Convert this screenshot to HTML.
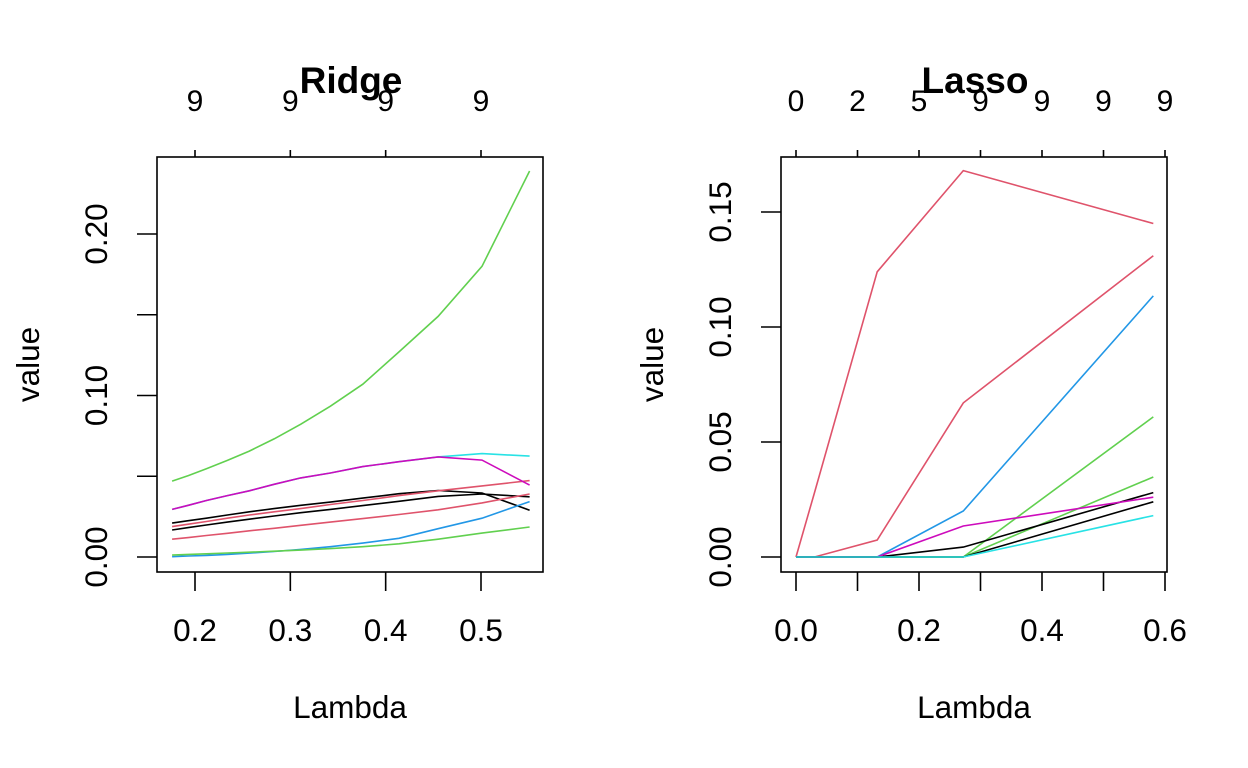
<!DOCTYPE html>
<html><head><meta charset="utf-8"><style>
html,body{margin:0;padding:0;background:#fff;}
svg{display:block;font-family:"Liberation Sans",Arial,sans-serif;}
</style></head><body>
<svg id="chart" width="1248" height="768" viewBox="0 0 1248 768" xmlns="http://www.w3.org/2000/svg"></svg>
<script>
// Ridge data
const ridgeLambda = [0.176,0.193,0.212,0.234,0.257,0.283,0.311,0.342,0.376,0.414,0.455,0.501,0.551];
const ridgeSeries = [
  [0.021,0.0225,0.024,0.026,0.028,0.030,0.032,0.034,0.0365,0.0392,0.0412,0.0396,0.029],
  [0.0188,0.0203,0.022,0.024,0.026,0.028,0.030,0.0325,0.035,0.038,0.041,0.044,0.0473],
  [0.047,0.0504,0.0546,0.0598,0.0656,0.0731,0.0822,0.0934,0.107,0.127,0.149,0.180,0.239],
  [0.0002,0.0006,0.001,0.0016,0.0024,0.0034,0.0047,0.0064,0.0086,0.0116,0.0175,0.024,0.0343],
  [0.0295,0.032,0.035,0.038,0.041,0.045,0.049,0.052,0.056,0.059,0.062,0.064,0.0625],
  [0.0295,0.032,0.035,0.038,0.041,0.045,0.049,0.052,0.056,0.059,0.062,0.060,0.0445],
  [0.0167,0.0182,0.0198,0.0216,0.0234,0.0254,0.0274,0.0295,0.0318,0.0345,0.0375,0.039,0.0373],
  [0.011,0.012,0.0133,0.0147,0.0162,0.0178,0.0196,0.0216,0.0238,0.0263,0.0292,0.0335,0.039],
  [0.0012,0.0016,0.002,0.0025,0.003,0.0036,0.0043,0.0052,0.0064,0.0082,0.011,0.0148,0.0186]
];
const ridgeXTicks = [0.2,0.3,0.4,0.5];
const ridgeYTicks = [0,0.05,0.10,0.15,0.20];
const ridgeYLabels = ["0.00","","0.10","","0.20"];
const ridgeTopLabels = ["9","9","9","9"];
// Lasso data
const lassoLambda = [0,0.03,0.132,0.272,0.581];
const lassoSeries = [
  [0,0.028,0.124,0.168,0.145],
  [0,0,0.0074,0.067,0.131],
  [0,0,0,0.020,0.1135],
  [0,0,0,0,0.0609],
  [0,0,0,0,0.0348],
  [0,0,0,0.0043,0.028],
  [0,0,0,0.0135,0.026],
  [0,0,0,0,0.024],
  [0,0,0,0,0.018]
];
const lassoColors = ["#DF536B","#DF536B","#2297E6","#61D04F","#61D04F","#000000","#CD0BBC","#000000","#28E2E5"];
const ridgeColors = ["#000000","#DF536B","#61D04F","#2297E6","#28E2E5","#CD0BBC","#000000","#DF536B","#61D04F"];
const lassoXTicks = [0,0.1,0.2,0.3,0.4,0.5,0.6];
const lassoXLabels = ["0.0","","0.2","","0.4","","0.6"];
const lassoYTicks = [0,0.05,0.10,0.15];
const lassoYLabels = ["0.00","0.05","0.10","0.15"];
const lassoTopLabels = ["0","2","5","9","9","9","9"];

const NS="http://www.w3.org/2000/svg";
const svg=document.getElementById('chart');
function mk(tag,attrs,parent,text){const e=document.createElementNS(NS,tag);for(const k in attrs)e.setAttribute(k,attrs[k]);if(text!==undefined)e.textContent=text;(parent||svg).appendChild(e);return e;}

function panel(name,box,xd,yd,lam,series,colors,xt,xl,yt,yl,topl,title){
  const g=mk('g',{});
  
  
  const sx=v=>box.x0+(v-xd[0])/(xd[1]-xd[0])*(box.x1-box.x0);
  const sy=v=>box.y0+(v-yd[0])/(yd[1]-yd[0])*(box.y1-box.y0);
  series.forEach((s,i)=>{
    const p=mk('polyline',{points:s.map((v,j)=>sx(lam[j]).toFixed(1)+','+sy(v).toFixed(1)).join(' '),fill:'none',stroke:colors[i],'stroke-width':1.6},g);
    
    
  });
  const r=mk('rect',{x:box.l,y:box.t,width:box.r-box.l,height:box.b-box.t,fill:'none',stroke:'#000','stroke-width':1.6},g);
  
  
  xt.forEach((v,i)=>{
    const x=sx(v);
    mk('line',{x1:x,x2:x,y1:box.b,y2:box.b+19,stroke:'#000','stroke-width':1.6},g);
    if(xl[i]){const t=mk('text',{x:x,y:641,'font-size':31.5,'text-anchor':'middle'},g,xl[i]);
      
      }
    mk('line',{x1:x,x2:x,y1:box.t,y2:box.t-7,stroke:'#000','stroke-width':1.6},g);
    const tt=mk('text',{x:x,y:111,'font-size':30,'text-anchor':'middle'},g,topl[i]);
    
    
  });
  yt.forEach((v,i)=>{
    const y=sy(v);
    mk('line',{x1:box.l,x2:box.l-20,y1:y,y2:y,stroke:'#000','stroke-width':1.6},g);
    if(yl[i]){const t=mk('text',{x:0,y:0,'font-size':31.5,'text-anchor':'middle',transform:`translate(${box.l-50},${y}) rotate(-90)`},g,yl[i]);
      
      }
  });
  const cx=(box.l+box.r)/2;
  const ti=mk('text',{x:cx+1,y:93,'font-size':37,'font-weight':'bold','text-anchor':'middle'},g,title);
  
  
  const xa=mk('text',{x:cx,y:718,'font-size':31.5,'text-anchor':'middle'},g,'Lambda');
  
  
  const ya=mk('text',{x:0,y:0,'font-size':31.5,'text-anchor':'middle',transform:`translate(${box.l-118},${(box.t+box.b)/2}) rotate(-90)`},g,'value');
  
  
}
panel('ridge',{l:157,r:543,t:157,b:572,x0:195,x1:481,y0:557,y1:234},[0.2,0.5],[0,0.2],
  ridgeLambda,ridgeSeries,ridgeColors,ridgeXTicks,["0.2","0.3","0.4","0.5"],ridgeYTicks,ridgeYLabels,ridgeTopLabels,'Ridge');
panel('lasso',{l:781,r:1167,t:157,b:572,x0:796,x1:1165,y0:557,y1:212},[0,0.6],[0,0.15],
  lassoLambda,lassoSeries,lassoColors,lassoXTicks,lassoXLabels,lassoYTicks,lassoYLabels,lassoTopLabels,'Lasso');
</script>
</body></html>
